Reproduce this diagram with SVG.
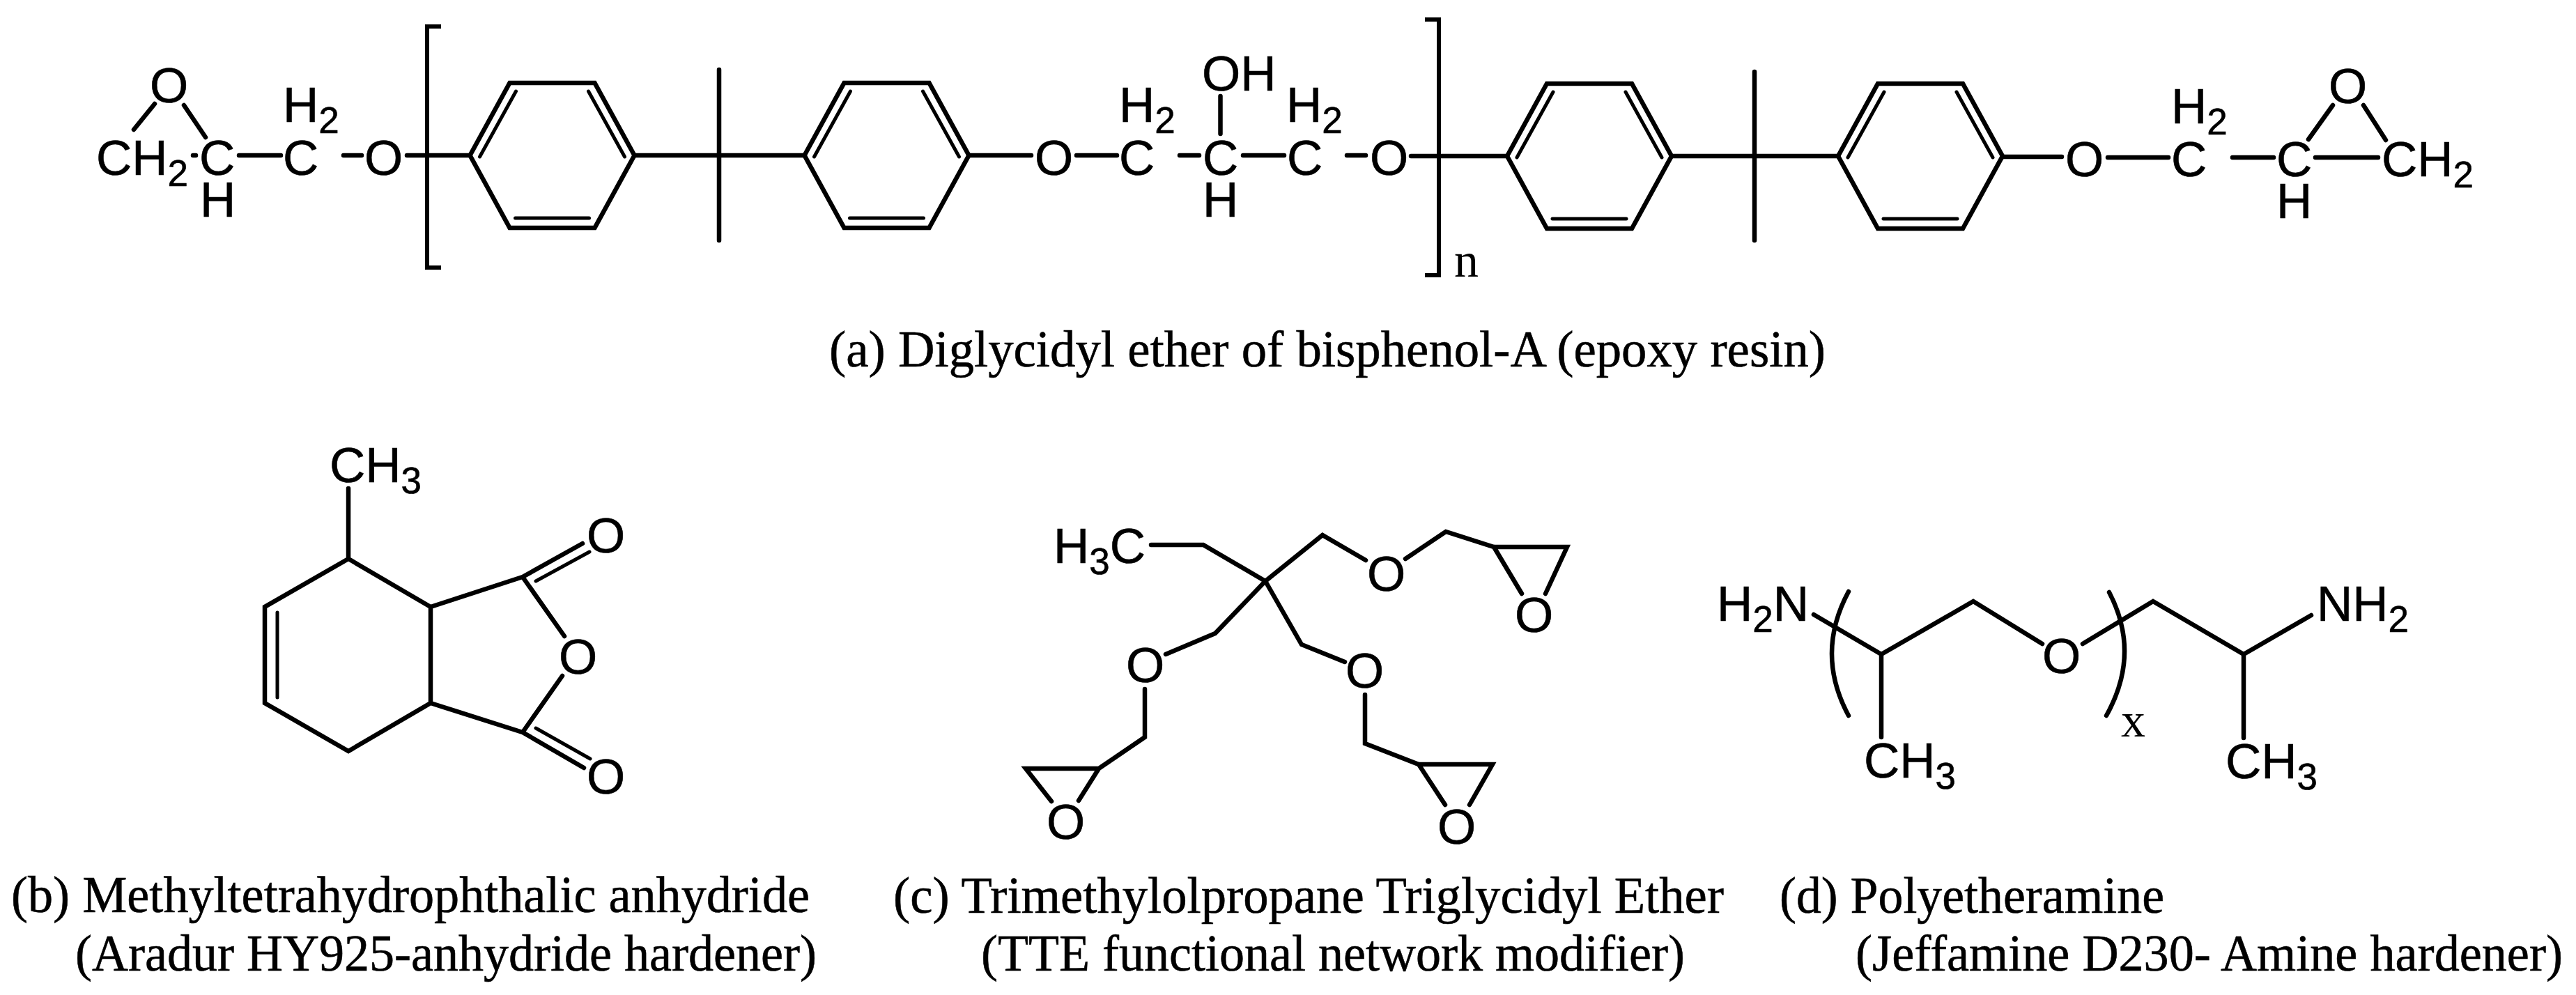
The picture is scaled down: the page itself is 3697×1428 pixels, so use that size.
<svg xmlns="http://www.w3.org/2000/svg" width="3697" height="1428" viewBox="0 0 3697 1428">
<style>
.b{fill:none;stroke:#000;stroke-width:6.5;stroke-linejoin:miter;stroke-linecap:round}
.k{fill:none;stroke:#000;stroke-width:6}
.i{fill:none;stroke:#000;stroke-width:5;stroke-linecap:round}
.a{font-family:"Liberation Sans",Arial,sans-serif;font-size:71px;fill:#000;stroke:#000;stroke-width:.6}
.s{font-size:53px}
.t{font-family:"Liberation Serif","Times New Roman",serif;font-size:74px;fill:#000;stroke:#000;stroke-width:.6}
.m{font-family:"Liberation Serif","Times New Roman",serif;font-size:70px;fill:#000}
</style>
<defs>
<g id="ring">
<path class="b" d="M-118 0L-61-104H61L118 0L61 104H-61Z"/>
<path class="i" d="M-104 2L-52-92M104 2L52-92M-53 90H53"/>
</g>
</defs>
<rect width="3697" height="1428" fill="#fff"/>
<g id="connectors">
<g id="bonds-a">
<use href="#ring" x="792.5" y="223"/>
<use href="#ring" x="1272.5" y="223"/>
<use href="#ring" x="2281" y="224"/>
<use href="#ring" x="2756" y="224"/>
<path class="b" d="M222 149L192 186M264 151L295 197M277 223H281M343 223H403M493 223H519M584 223H674M911 223H1155M1032 100V345M1390 223H1480M1545 223H1603M1693 223H1721M1784 223H1843M1933 223H1960M1751.5 138V192M2025 224H2163M2399 224H2638M2518 103V345M2874 225H2959M3025 226H3112M3204 226H3263M3323 226H3413M3348 151L3313 200M3392 151L3424 201"/>
<path class="k" d="M633 38H613V384H633M2045 28H2065V395H2045"/>
</g>
<g id="bonds-b">
<path class="b" d="M500 701V802L618 871V1009L500 1078L380 1009V871L500 802M618 871L750 828L810 913M618 1009L750 1051L807 970M750 828L836 780M750 1051L838 1102"/>
<path class="i" d="M398 879V1001M769 834L846 792M769 1045L847 1089"/>
</g>
<g id="bonds-c">
<path class="b" d="M1652 782H1727L1816 834L1898 768L1960 804M2017 802L2075 763L2144 785H2249L2218 852M2144 785L2184 852M1816 834L1744 909L1673 939M1643 989V1058L1577 1103H1472L1509 1150M1577 1103L1548 1149M1816 834L1868 925L1930 950M1959 997V1067L2036 1097H2142L2109 1155M2036 1097L2074 1155"/>
</g>
<g id="bonds-d">
<path class="b" d="M2603 882L2700 939L2832 863L2931 924M2989 924L3090 863L3220 939L3317 883M2700 939V1058M3220 939V1059M2653 849Q2605 938 2653 1027M3027 850Q3073 938 3023 1027"/>
</g>
</g>
<g id="molecule-a">
<text class="a" x="215" y="147">O</text>
<text class="a" x="138" y="251">CH<tspan class="s" dy="16">2</tspan></text>
<text class="a" x="286" y="251">C</text>
<text class="a" x="287" y="311">H</text>
<text class="a" x="406" y="251">C</text>
<text class="a" x="406" y="175">H<tspan class="s" dy="16">2</tspan></text>
<text class="a" x="523" y="251">O</text>
<text class="a" x="1485" y="251">O</text>
<text class="a" x="1606" y="251">C</text>
<text class="a" x="1606" y="175">H<tspan class="s" dy="16">2</tspan></text>
<text class="a" x="1726" y="251">C</text>
<text class="a" x="1726" y="311">H</text>
<text class="a" x="1725" y="130">OH</text>
<text class="a" x="1847" y="251">C</text>
<text class="a" x="1846" y="175">H<tspan class="s" dy="16">2</tspan></text>
<text class="a" x="1966" y="251">O</text>
<text class="m" x="2087" y="397">n</text>
<text class="a" x="2964" y="253">O</text>
<text class="a" x="3116" y="253">C</text>
<text class="a" x="3116" y="177">H<tspan class="s" dy="16">2</tspan></text>
<text class="a" x="3267" y="253">C</text>
<text class="a" x="3267" y="313">H</text>
<text class="a" x="3418" y="253">CH<tspan class="s" dy="16">2</tspan></text>
<text class="a" x="3342" y="148">O</text>
<text class="t" x="1190" y="526" textLength="1430" lengthAdjust="spacingAndGlyphs">(a) Diglycidyl ether of bisphenol-A (epoxy resin)</text>
</g>
<g id="molecule-b">
<text class="a" x="473" y="692">CH<tspan class="s" dy="16">3</tspan></text>
<text class="a" x="842" y="793">O</text>
<text class="a" x="802" y="967">O</text>
<text class="a" x="842" y="1139">O</text>
<text class="t" x="16" y="1309" textLength="1146" lengthAdjust="spacingAndGlyphs">(b) Methyltetrahydrophthalic anhydride</text>
<text class="t" x="108" y="1393" textLength="1064" lengthAdjust="spacingAndGlyphs">(Aradur HY925-anhydride hardener)</text>
</g>
<g id="molecule-c">
<text class="a" x="1512" y="808">H<tspan class="s" dy="16">3</tspan><tspan dy="-16">C</tspan></text>
<text class="a" x="1962" y="848">O</text>
<text class="a" x="2174" y="907">O</text>
<text class="a" x="1616" y="979">O</text>
<text class="a" x="1502" y="1204">O</text>
<text class="a" x="1931" y="987">O</text>
<text class="a" x="2063" y="1211">O</text>
<text class="t" x="1282" y="1310" textLength="1192" lengthAdjust="spacingAndGlyphs">(c) Trimethylolpropane Triglycidyl Ether</text>
<text class="t" x="1408" y="1393" textLength="1010" lengthAdjust="spacingAndGlyphs">(TTE functional network modifier)</text>
</g>
<g id="molecule-d">
<text class="a" x="2464" y="891">H<tspan class="s" dy="16">2</tspan><tspan dy="-16">N</tspan></text>
<text class="a" x="3325" y="891">NH<tspan class="s" dy="16">2</tspan></text>
<text class="a" x="2931" y="966">O</text>
<text class="a" x="2675" y="1116">CH<tspan class="s" dy="16">3</tspan></text>
<text class="a" x="3194" y="1117">CH<tspan class="s" dy="16">3</tspan></text>
<text class="m" x="3044" y="1057">x</text>
<text class="t" x="2554" y="1310" textLength="552" lengthAdjust="spacingAndGlyphs">(d) Polyetheramine</text>
<text class="t" x="2663" y="1393" textLength="1015" lengthAdjust="spacingAndGlyphs">(Jeffamine D230- Amine hardener)</text>
</g>
</svg>
